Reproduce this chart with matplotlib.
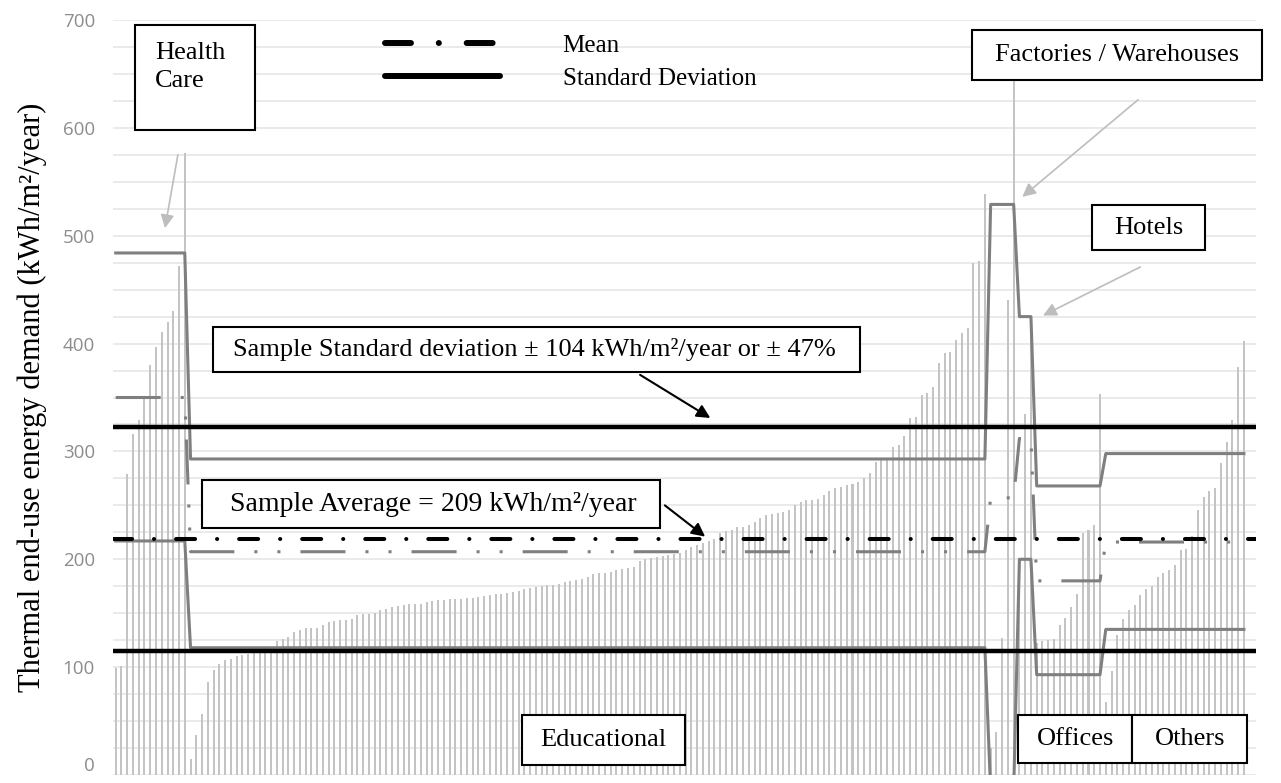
import matplotlib
matplotlib.use("Agg")
import matplotlib.pyplot as plt
from matplotlib.patches import Rectangle
from matplotlib.lines import Line2D
import numpy as np

plt.rcParams['lines.scale_dashes'] = False

# thermal end-use demand per building, sorted inside each category
health_care = [99, 101, 279, 316, 329, 349, 380, 397, 411, 420, 430, 472, 577]
educational = [15, 37, 57, 86, 97, 103, 107, 108, 110, 111, 112, 113, 113, 115, 119, 124,
               126, 128, 133, 134, 136, 136, 136, 139, 142, 143, 144, 144, 145, 148, 149, 149,
               150, 153, 154, 156, 157, 158, 159, 159, 159, 160, 161, 162, 162, 163,
               163, 163, 164, 164, 165, 166, 167, 168, 168, 169, 170, 171, 172, 173, 174, 175,
               176, 176, 177, 179, 180, 181, 182, 184, 186, 187, 187, 188, 190, 191, 192, 193,
               198, 200, 201, 202, 203, 204, 205, 206, 209, 211, 213, 215, 217, 219,
               224, 226, 227, 230, 230, 232, 235, 238, 241, 242, 243, 244, 246, 250, 253, 255,
               255, 256, 260, 263, 266, 267, 269, 270, 272, 275, 280, 290, 292, 294, 304, 306,
               314, 331, 332, 352, 354, 360, 382, 391, 392, 403, 410, 414, 475, 477, 539]
factories = [25, 40, 127, 440, 650]
hotels = [189, 335, 412]
offices = [122, 124, 125, 126, 139, 146, 156, 168, 224, 227, 232, 353]
others = [68, 96, 130, 145, 153, 158, 167, 172, 175, 184, 187, 190, 195, 209, 210, 222,
          246, 258, 263, 266, 289, 309, 329, 378, 402]

# category mean and mean +/- std
cat_mean = [350, 207, 257, 312, 180, 216]
cat_upper = [484, 293, 529, 425, 268, 298]
cat_lower = [217, 118, -14, 200, 93, 135]

sample_mean = 219
sample_std = 104

groups = [health_care, educational, factories, hotels, offices, others]
counts = [len(g) for g in groups]
demand = np.concatenate(groups)
x = np.arange(len(demand))

serif = 'Liberation Serif'
grey = '#7f7f7f'

fig = plt.figure(figsize=(12.81, 7.83), dpi=100)
ax = fig.add_axes([113 / 1281, 8 / 783, 1143 / 1281, 755 / 783])

ax.bar(x, demand, width=0.35, color='#c4c4c4', zorder=2)

ax.plot(x, np.repeat(cat_upper, counts), color=grey, lw=2.2, zorder=3)
ax.plot(x, np.repeat(cat_lower, counts), color=grey, lw=2.2, zorder=3)
ax.plot(x, np.repeat(cat_mean, counts), color=grey, lw=2.2, zorder=3,
        dashes=(32.4, 14.4, 2.2, 14.4, 2.2, 14.4))

ax.axhline(sample_mean + sample_std, color='black', lw=3.2, zorder=4)
ax.axhline(sample_mean - sample_std, color='black', lw=3.2, zorder=4)
ax.axhline(sample_mean, color='black', lw=2.9, zorder=4,
           dashes=(13.7, 15.8, 0.1, 15.8), dash_capstyle='round')

ax.set_xlim(-0.47, 198.1)
ax.set_ylim(0, 700)
ax.set_xticks([])
ax.set_yticks(range(0, 701, 100))
ax.set_yticks(range(0, 701, 25), minor=True)
ax.grid(which='both', axis='y', color='#e4e4e4', lw=1.1)
ax.set_axisbelow(True)
ax.tick_params(which='both', length=0)
ax.tick_params(axis='y', labelcolor='#8c8c8c', labelsize=13.5, pad=13)
for lbl in ax.get_yticklabels():
    lbl.set_fontfamily('Open Sans')
# keep the "0" label inside the canvas
ax.yaxis.get_major_ticks()[0].label1.set_va('bottom')
for s in ax.spines.values():
    s.set_visible(False)

fig.text(32 / 1281, 1 - 397 / 783, "Thermal end-use energy demand (kWh/m²/year)",
         rotation=90, ha='center', va='center', fontfamily=serif, fontsize=22)

# legend
handles = [Line2D([], [], color='black', lw=4.3, dashes=(18.7, 20, 0.1, 20),
                  dash_capstyle='round'),
           Line2D([], [], color='black', lw=4.3, solid_capstyle='round')]
ax.legend(handles, ['Mean', 'Standard Deviation'], loc='upper left',
          bbox_to_anchor=(0.238, 0.981), frameon=False, prop={'family': serif, 'size': 18},
          handlelength=4.6, handletextpad=2.5, labelspacing=0.42, borderpad=0,
          borderaxespad=0)


def box(x0, y0, x1, y1):
    ax.add_patch(Rectangle((x0, y0), x1 - x0, y1 - y0, facecolor='white',
                           edgecolor='black', lw=1.5, zorder=6, clip_on=False))


def label(xc, yc, s, size=19, **kw):
    ax.text(xc, yc, s, ha=kw.pop('ha', 'center'), va=kw.pop('va', 'center'),
            fontfamily=serif, fontsize=size, zorder=7, **kw)


box(3.35, 598, 24.2, 695.3)
label(6.8, 680, "Health\nCare", ha='left', va='top', linespacing=1.35)

box(148.8, 644.4, 199.2, 690.7)
label(174.0, 667.5, "Factories / Warehouses")

box(169.6, 486.7, 189.3, 528.5)
label(179.4, 507.6, "Hotels")

box(16.9, 373.6, 129.3, 415.4)
label(72.8, 394.5, "Sample Standard deviation ± 104 kWh/m²/year or ± 47%", size=19)

box(15.0, 229.0, 94.6, 273.5)
label(55.2, 251, "Sample Average = 209 kWh/m²/year", size=20)

box(70.6, 9.3, 98.9, 55.6)
label(84.7, 32, "Educational")

box(156.8, 11.1, 176.6, 55.6)
label(166.7, 33, "Offices")
box(176.6, 11.1, 196.6, 55.6)
label(186.6, 33, "Others")

light = dict(arrowstyle='-|>', color='#bdbdbd', lw=1.2, mutation_scale=20,
             shrinkA=0, shrinkB=0)
dark = dict(arrowstyle='-|>', color='black', lw=1.5, mutation_scale=20,
            shrinkA=0, shrinkB=0)
ax.annotate('', xy=(8.56, 507), xytext=(10.8, 575), arrowprops=light, zorder=5)
ax.annotate('', xy=(157.5, 536), xytext=(177.6, 626), arrowprops=light, zorder=5)
ax.annotate('', xy=(161.1, 426), xytext=(178.0, 471), arrowprops=light, zorder=5)
ax.annotate('', xy=(103.3, 331), xytext=(91.1, 371), arrowprops=dark, zorder=5)
ax.annotate('', xy=(102.4, 221), xytext=(95.4, 250), arrowprops=dark, zorder=5)

fig.savefig('out.png', dpi=100)
